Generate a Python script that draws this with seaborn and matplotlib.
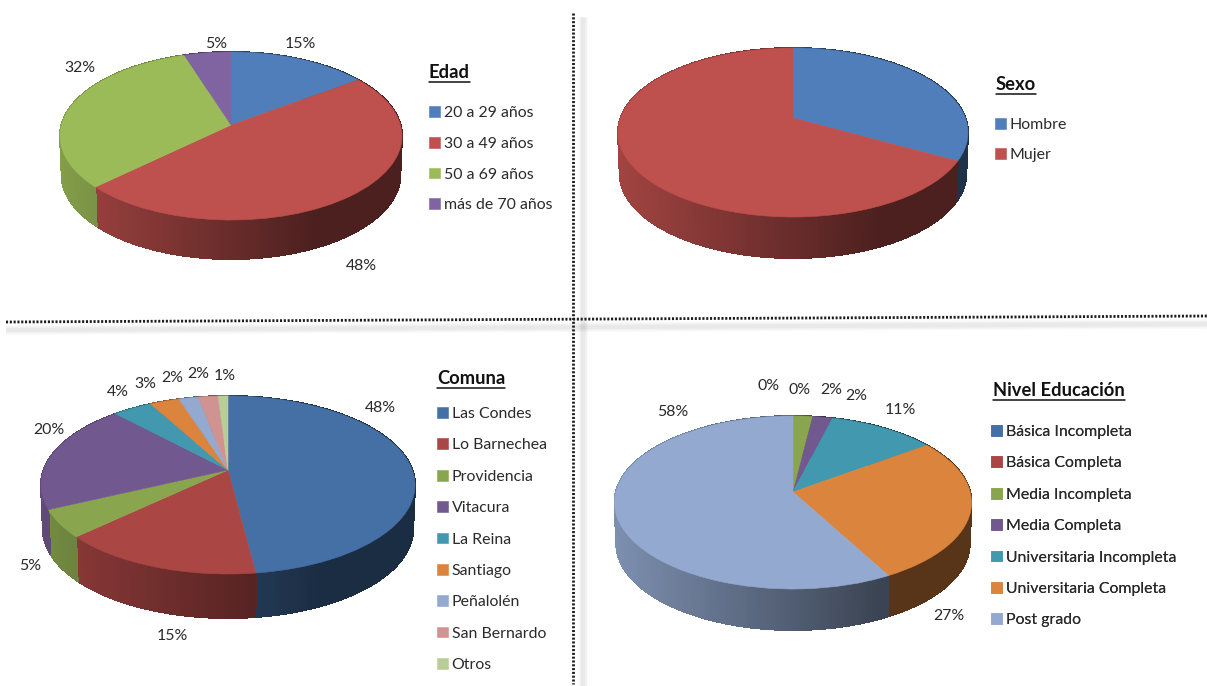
import numpy as np
import matplotlib
matplotlib.use("Agg")
import matplotlib.pyplot as plt
from matplotlib.collections import LineCollection, PolyCollection
from matplotlib.colors import to_rgb
from matplotlib.lines import Line2D
from matplotlib.transforms import Transform
import seaborn as sns

# Survey shares, in percent
edad_labels = ["20 a 29 años", "30 a 49 años", "50 a 69 años", "más de 70 años"]
edad_values = [15, 48, 32, 5]
sexo_labels = ["Hombre", "Mujer"]
sexo_values = [33, 67]
comuna_labels = ["Las Condes", "Lo Barnechea", "Providencia", "Vitacura", "La Reina",
                 "Santiago", "Peñalolén", "San Bernardo", "Otros"]
comuna_values = [48, 15, 5, 20, 4, 3, 2, 2, 1]
educacion_labels = ["Básica Incompleta", "Básica Completa", "Media Incompleta", "Media Completa",
                    "Universitaria Incompleta", "Universitaria Completa", "Post grado"]
educacion_values = [0, 0, 2, 2, 11, 27, 58]

# Slice colours
bright_colors = ["#4F7EBA", "#BE504D", "#9BBA58", "#8063A1"]
muted_colors = ["#4470A6", "#AA4644", "#89A54E", "#71588F", "#4198AF",
                "#DB843D", "#93A9CF", "#D19392", "#B9CD96"]
education_colors = ["#4470A6", "#AA4644", "#89A54E", "#71588F", "#4198AF", "#DB843D", "#93A9CF"]

FONT = "Lato"
TEXT_COLOR = "#2a2a2a"
FONT_SIZE = 11.4

sns.set_theme(style="white", rc={"font.family": FONT})


class TiltedDisc(Transform):
    """Perspective view of the unit disc, giving figure pixel positions."""
    input_dims = 2
    output_dims = 2
    is_separable = False
    has_inverse = False

    def __init__(self, cx, cy, width, back, front, shrink=1.0, drop=0.0):
        super().__init__()
        self.k = (front - back) / (front + back)
        self.q = back * (1 + self.k)
        self.p = width * np.sqrt(1 - self.k ** 2) * shrink
        self.cx, self.cy, self.drop = cx, cy, drop

    def transform_non_affine(self, values):
        values = np.asarray(values, dtype=float)
        u, v = values[:, 0], values[:, 1]
        w = 1 + self.k * v
        return np.column_stack([self.cx + self.p * u / w,
                                self.cy + self.drop - self.q * v / w])


def wall_shade(x, left, right):
    """Brightness of the rim: lit on the left, darkest from three quarters across."""
    t = np.clip((x - left) / (right - left), 0, 0.75)
    return 0.85 - 0.6 * t


def draw_chart(ax, values, labels, colors, geometry, title, title_xy, legend_xy,
               row_gap, label_xy):
    cx, cy, width, back, front, depth = geometry
    top = TiltedDisc(cx, cy, width, back, front)
    bottom = TiltedDisc(cx, cy, width, back, front, shrink=0.99, drop=depth)
    wedges, _ = ax.pie(values, colors=colors, startangle=90, counterclock=False,
                       wedgeprops={"linewidth": 0.4})
    left, right = cx - width, cx + width
    for wedge, color in zip(wedges, colors):
        wedge.set_edgecolor(color)
        wedge.set_transform(top + ax.transData)
        wedge.set_zorder(3)
        if wedge.theta2 - wedge.theta1 < 1e-6:
            continue
        # Rim of this slice as narrow vertical strips, shaded along x
        steps = max(2, int(wedge.theta2 - wedge.theta1) + 1)
        angles = np.radians(np.linspace(wedge.theta1, wedge.theta2, steps))
        unit = np.column_stack([np.cos(angles), np.sin(angles)])
        upper = top.transform_non_affine(unit)
        lower = bottom.transform_non_affine(unit)
        quads = [[upper[i], upper[i + 1], lower[i + 1], lower[i]] for i in range(steps - 1)]
        mids = (upper[:-1, 0] + upper[1:, 0]) / 2
        shades = [np.array(to_rgb(color)) * wall_shade(x, left, right) for x in mids]
        ax.add_collection(PolyCollection(quads, facecolors=shades, edgecolors=shades,
                                         linewidths=0.7, antialiaseds=False, zorder=2),
                          autolim=False)
        # Smooth outer edge for the strips
        edges = [[lower[i], lower[i + 1]] for i in range(steps - 1)]
        ax.add_collection(LineCollection(edges, colors=shades, linewidths=0.9, zorder=2),
                          autolim=False)

    # Legend beside the pie
    font_px = FONT_SIZE * 100 / 72
    legend = ax.legend(handles=wedges, labels=labels, loc="upper left",
                       bbox_to_anchor=legend_xy, bbox_transform=ax.transData,
                       frameon=False, borderpad=0, borderaxespad=0,
                       prop={"family": FONT, "size": FONT_SIZE},
                       handlelength=10.5 / font_px, handleheight=10.5 / font_px,
                       handletextpad=4 / font_px,
                       labelspacing=(row_gap - font_px * 0.98) / font_px,
                       labelcolor=TEXT_COLOR)
    ax.add_artist(legend)

    # Underlined title
    heading = ax.text(title_xy[0], title_xy[1], title, fontsize=13.2, fontweight="bold",
                      color="#111111", ha="left", va="center", zorder=5)
    fig = ax.figure
    box = heading.get_window_extent(fig.canvas.get_renderer())
    ax.add_line(Line2D([title_xy[0], title_xy[0] + box.width],
                       [title_xy[1] + 9, title_xy[1] + 9],
                       color="#111111", lw=1.1, zorder=5))

    # Percentage labels, placed around the rim
    if label_xy:
        for value, (x, y) in zip(values, label_xy):
            ax.text(x, y + 1.5, f"{value}%", fontsize=FONT_SIZE, color=TEXT_COLOR,
                    ha="center", va="center", zorder=5)


def divider(ax, xs, ys, shadow_offset):
    sx, sy = shadow_offset
    for width, alpha in [(7, 0.025), (5, 0.03), (3, 0.03)]:
        ax.plot(np.array(xs) + sx, np.array(ys) + sy, color="black", lw=width,
                alpha=alpha, solid_capstyle="butt", zorder=0)
    ax.plot(xs, ys, color="#1c1c1c", lw=2.0, linestyle=(0, (0.75, 0.62)), zorder=1)


fig = plt.figure(figsize=(12.07, 6.86), dpi=100, facecolor="white")
ax = fig.add_axes([0, 0, 1, 1])
fig.canvas.draw()

# Page layout: (centre x, apex y, half width, back, front, rim depth)
draw_chart(ax, edad_values, edad_labels, sns.color_palette(bright_colors),
           (231, 125, 171, 73, 95, 39), "Edad", (429, 72.5), (429, 106), 32.3,
           [(300, 43), (361, 265), (80, 66), (216, 42)])
draw_chart(ax, sexo_values, sexo_labels, sns.color_palette(bright_colors[:2]),
           (793, 118, 175, 70, 99, 41), "Sexo", (996, 85), (995, 118), 31.5, None)
draw_chart(ax, comuna_values, comuna_labels, sns.color_palette(muted_colors),
           (228, 470, 187, 74, 104, 44), "Comuna", (437, 378.5), (437, 407), 32.9,
           [(380, 407), (172, 635), (30, 564), (49, 428), (118, 391),
            (145, 383), (172, 377), (198, 373), (225, 375)])
draw_chart(ax, educacion_values, educacion_labels, sns.color_palette(education_colors),
           (793, 492, 178.5, 76, 97, 41), "Nivel Educación", (993, 391), (991, 425), 32.9,
           [(769, 385), (800, 388), (831, 388), (856, 394), (900, 409), (949, 614), (673, 411)])

divider(ax, [6, 1207], [322, 316], (0, 8))
divider(ax, [573, 573], [13, 684], (10, 4))

ax.set_aspect("auto")
ax.set_xlim(0, 1207)
ax.set_ylim(686, 0)
ax.axis("off")

fig.savefig("out.png", dpi=100, facecolor="white")
